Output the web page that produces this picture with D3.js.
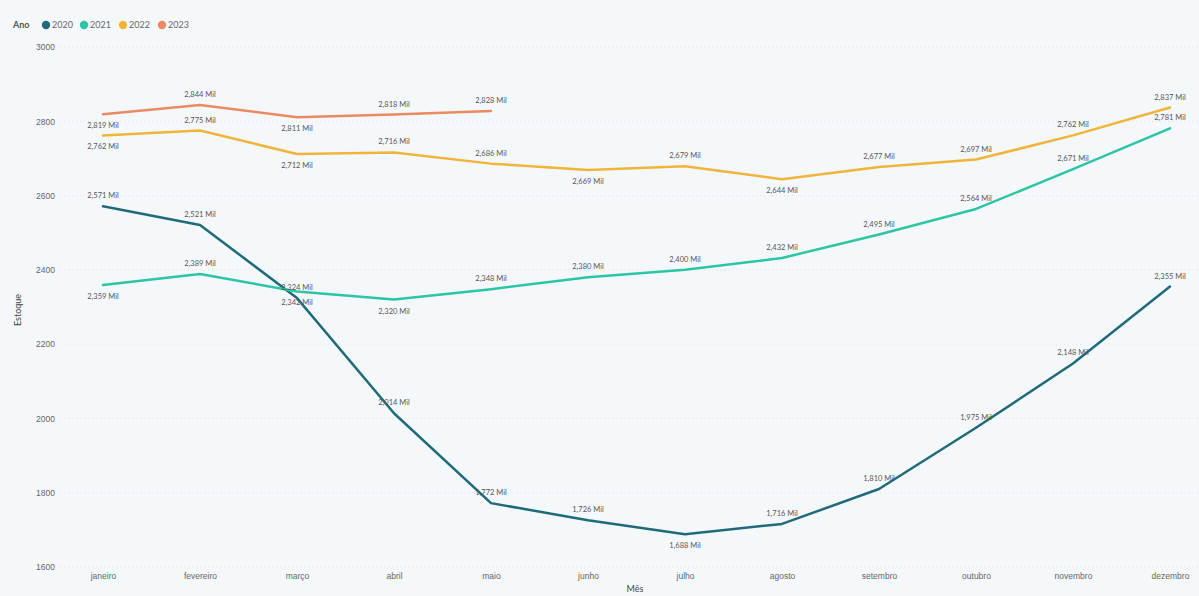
<!DOCTYPE html>
<html><head><meta charset="utf-8">
<script src="https://cdn.jsdelivr.net/npm/d3@7"></script>
<style>
html,body{margin:0;padding:0;background:#f5f8fb;}
svg{display:block;font-family:Lato,"Open Sans",sans-serif;}
</style></head>
<body><svg id="c" width="1199" height="596"></svg>
<script>
const months = ["janeiro","fevereiro","março","abril","maio","junho","julho","agosto","setembro","outubro","novembro","dezembro"];
const years = ["2020","2021","2022","2023"];
const colors = ["#1f6b79","#2ec5a6","#f1b43b","#e98a62"];
const yTicks = [1600,1800,2000,2200,2400,2600,2800,3000];
const v2020 = [2571,2521,2324,2014,1772,1726,1688,1716,1810,1975,2148,2355];
const v2021 = [2359,2389,2342,2320,2348,2380,2400,2432,2495,2564,2671,2781];
const v2022 = [2762,2775,2712,2716,2686,2669,2679,2644,2677,2697,2762,2837];
const v2023 = [2819,2844,2811,2818,2828];
// label side: 1 = above, -1 = below
const side2020 = [1,1,1,1,1,1,-1,1,1,1,1,1];
const side2021 = [-1,1,-1,-1,1,1,1,1,1,1,1,1];
const side2022 = [-1,1,-1,1,1,-1,1,-1,1,1,1,1];
const side2023 = [-1,1,-1,1,1];

const series = [
  {name:years[0], color:colors[0], values:v2020, side:side2020},
  {name:years[1], color:colors[1], values:v2021, side:side2021},
  {name:years[2], color:colors[2], values:v2022, side:side2022},
  {name:years[3], color:colors[3], values:v2023, side:side2023}
];

const svg = d3.select("#c");
const x = d3.scalePoint().domain(months).range([103,1170]);
const y = d3.scaleLinear().domain([1600,3000]).range([567,47]);

// gridlines
svg.append("g").selectAll("line").data(yTicks).join("line")
  .attr("x1",60).attr("x2",1199)
  .attr("y1",d=>y(d)).attr("y2",d=>y(d))
  .attr("stroke","#dde1e6").attr("stroke-width",1).attr("stroke-dasharray","1,3");

// y axis
const ya = svg.append("g").attr("transform","translate(55,0)")
  .call(d3.axisLeft(y).tickValues(yTicks).tickSize(0).tickPadding(0).tickFormat(d3.format("d")));
ya.select(".domain").remove();
ya.selectAll("text").attr("fill","#666").attr("font-size",8.5);

// x axis
const xa = svg.append("g").attr("transform","translate(0,573)")
  .call(d3.axisBottom(x).tickSize(0).tickPadding(0));
xa.select(".domain").remove();
xa.selectAll("text").attr("fill","#666").attr("font-size",8.5).attr("dy","0.71em");

// axis titles
svg.append("text").attr("transform","translate(21,310) rotate(-90)")
  .attr("text-anchor","middle").attr("font-size",9).attr("fill","#444").text("Estoque");
svg.append("text").attr("x",635).attr("y",592)
  .attr("text-anchor","middle").attr("font-size",9).attr("fill","#444").text("Mês");

// lines
const line = d3.line().x((d,i)=>x(months[i])).y(d=>y(d));
series.forEach(s=>{
  svg.append("path").datum(s.values).attr("d",line)
    .attr("fill","none").attr("stroke",s.color).attr("stroke-width",2.5)
    .attr("stroke-linejoin","round").attr("stroke-linecap","round");
});

// labels
const fmt = v => d3.format(",")(v) + " Mil";
series.forEach(s=>{
  svg.append("g").selectAll("text").data(s.values).join("text")
    .attr("x",(d,i)=>x(months[i]))
    .attr("y",(d,i)=>y(d) + (s.side[i]>0 ? -8 : 14))
    .attr("text-anchor","middle").attr("font-size",7.5).attr("fill","#555")
    .text(d=>fmt(d));
});

// legend
const lg = svg.append("g");
lg.append("text").attr("x",13).attr("y",28).attr("font-size",9).attr("font-weight","bold").attr("fill","#555").text("Ano");
const lx = [46,84,123,162];
series.forEach((s,i)=>{
  lg.append("circle").attr("cx",lx[i]).attr("cy",25).attr("r",4.2).attr("fill",s.color);
  lg.append("text").attr("x",lx[i]+6).attr("y",28).attr("font-size",9).attr("fill","#666").text(s.name);
});
</script></body></html>
